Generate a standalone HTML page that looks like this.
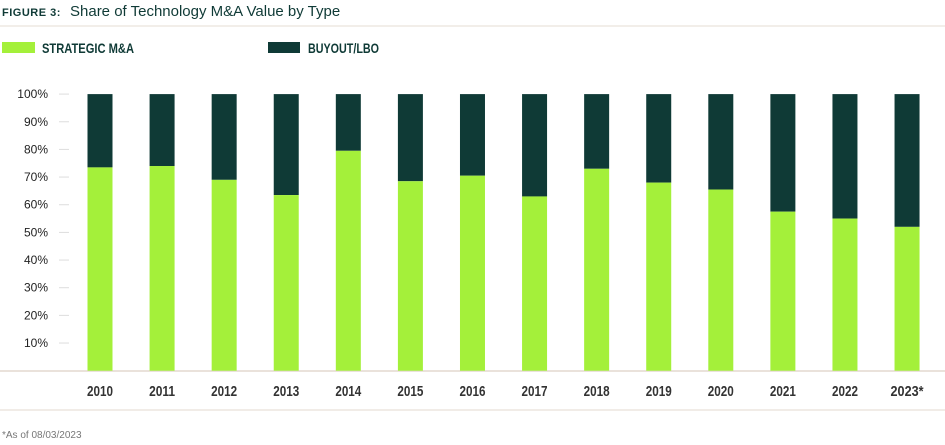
<!DOCTYPE html>
<html><head><style>
body{margin:0;background:#fff;}
svg{display:block}
.t{font-family:"Liberation Sans",sans-serif;}
.n{font-family:"Liberation Sans Narrow","Liberation Sans",sans-serif;font-weight:bold;}
</style></head><body>
<svg width="945" height="445" viewBox="0 0 945 445">
<text x="2" y="16" class="t" font-size="11" font-weight="bold" fill="#0f3a36" letter-spacing="0.5">FIGURE 3:</text>
<text x="70" y="16" class="t" font-size="15" fill="#0f3a36">Share of Technology M&amp;A Value by Type</text>
<line x1="0" y1="26" x2="945" y2="26" stroke="#e6ddd3" stroke-width="1"/>
<rect x="2" y="42" width="33" height="11" fill="#a4f03a"/>
<text x="42" y="53" class="n" font-size="14" fill="#0f3a36" textLength="92" lengthAdjust="spacingAndGlyphs">STRATEGIC M&amp;A</text>
<rect x="268" y="42" width="32" height="11" fill="#0f3a36"/>
<text x="308" y="53" class="n" font-size="14" fill="#0f3a36" textLength="71" lengthAdjust="spacingAndGlyphs">BUYOUT/LBO</text>
<g class="t" font-size="12" fill="#222" text-anchor="end" id="y"></g>
<line x1="0" y1="371" x2="945" y2="371" stroke="#e3d9cf" stroke-width="1.5"/>
<line x1="0" y1="410" x2="945" y2="410" stroke="#e3d9cf" stroke-width="1"/>
<g id="b"></g>
<text x="2" y="438" class="t" font-size="10" fill="#777">*As of 08/03/2023</text>
</svg>
<script>
const ns="http://www.w3.org/2000/svg";
const y=document.getElementById('y'),b=document.getElementById('b');
const Y=p=>370.7-p*2.766;
for(let i=1;i<=10;i++){const v=Y(i*10);
 let t=document.createElementNS(ns,'text');t.setAttribute('x',48);t.setAttribute('y',v+4);t.textContent=i*10+'%';y.appendChild(t);
 let l=document.createElementNS(ns,'line');l.setAttribute('x1',59);l.setAttribute('x2',69);l.setAttribute('y1',v);l.setAttribute('y2',v);l.setAttribute('stroke','#ddd');y.appendChild(l);}
const d=[73.5,74,69,63.5,79.5,68.5,70.5,63,73,68,65.5,57.5,55,52];
d.forEach((g,i)=>{const cx=100+i*62.08,x=cx-12.5;
 let r=document.createElementNS(ns,'rect');r.setAttribute('x',x);r.setAttribute('width',25);r.setAttribute('y',Y(100));r.setAttribute('height',Y(g)-Y(100));r.setAttribute('fill','#0f3a36');b.appendChild(r);
 r=document.createElementNS(ns,'rect');r.setAttribute('x',x);r.setAttribute('width',25);r.setAttribute('y',Y(g));r.setAttribute('height',370.7-Y(g));r.setAttribute('fill','#a4f03a');b.appendChild(r);
 let t=document.createElementNS(ns,'text');t.setAttribute('x',cx);t.setAttribute('y',396);t.setAttribute('text-anchor','middle');t.setAttribute('class','n');t.setAttribute('font-size','15');t.setAttribute('fill','#333');
 t.setAttribute('textLength',i==13?33:26);t.setAttribute('lengthAdjust','spacingAndGlyphs');t.textContent=(2010+i)+(i==13?'*':'');b.appendChild(t);
});
</script>
</body></html>
